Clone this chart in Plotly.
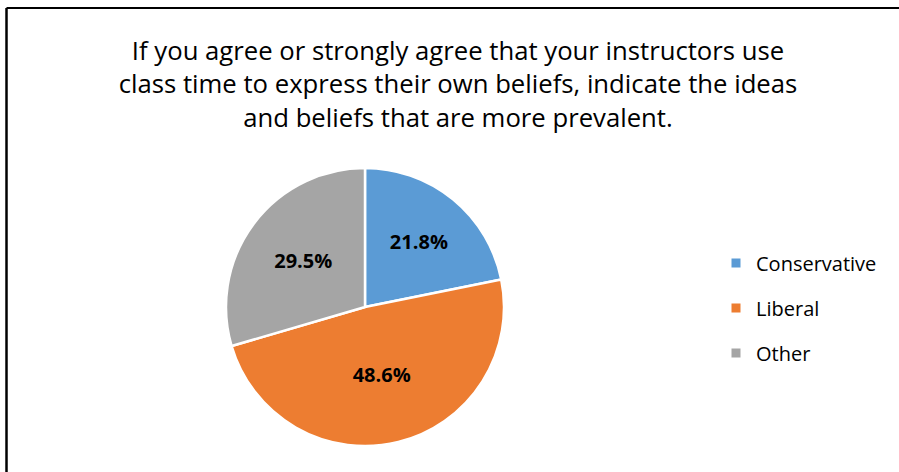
import plotly.graph_objects as go

categories = ["Conservative", "Liberal", "Other"]
values = [21.8, 48.6, 29.5]
colors = ["#5B9BD5", "#ED7D31", "#A5A5A5"]
title_text = ("If you agree or strongly agree that your instructors use<br>"
              "class time to express their own beliefs, indicate the ideas<br>"
              "and beliefs that are more prevalent.")

W, H = 899, 472
cx, cy, r = 365, 307, 139

fig = go.Figure(go.Pie(
    labels=categories,
    values=values,
    marker=dict(colors=colors, line=dict(color="white", width=2.5)),
    sort=False,
    direction="clockwise",
    rotation=0,
    texttemplate="%{value:.1f}%",
    textposition="inside",
    insidetextorientation="horizontal",
    textfont=dict(family="Open Sans", size=20, color="black", weight="bold"),
    domain=dict(x=[(cx - r) / W, (cx + r) / W], y=[(H - cy - r) / H, (H - cy + r) / H]),
    hoverinfo="label+percent",
    showlegend=False,
))

# legend entries (one per category, each in its own group so the gap can be set)
for name, col in zip(categories, colors):
    fig.add_trace(go.Scatter(
        x=[None], y=[None], mode="markers", name=name, legendgroup=name,
        marker=dict(symbol="square", size=9, color=col), hoverinfo="skip",
    ))

fig.update_layout(
    width=W, height=H,
    margin=dict(l=0, r=0, t=0, b=0),
    paper_bgcolor="white",
    plot_bgcolor="white",
    xaxis=dict(visible=False),
    yaxis=dict(visible=False),
    font=dict(family="Open Sans", color="black"),
    title=dict(text=title_text, x=458 / W, xanchor="center", y=1 - 60 / H, yanchor="middle",
               yref="container", font=dict(size=25.7, color="black")),
    legend=dict(x=716 / W, y=(H - 308) / H, xanchor="left", yanchor="middle",
                font=dict(size=20, color="black"), itemwidth=30,
                tracegroupgap=16, traceorder="grouped"),
    shapes=[
        dict(type="line", xref="paper", yref="paper", x0=6.5 / W, x1=1, y0=1 - 8 / H, y1=1 - 8 / H,
             line=dict(color="black", width=2)),
        dict(type="line", xref="paper", yref="paper", x0=6.5 / W, x1=6.5 / W, y0=0, y1=1 - 8 / H,
             line=dict(color="black", width=2.5)),
    ],
)

fig.write_html("out.html", config={"displayModeBar": False},
               post_script="document.body.style.margin='0';document.body.style.overflow='hidden';")
